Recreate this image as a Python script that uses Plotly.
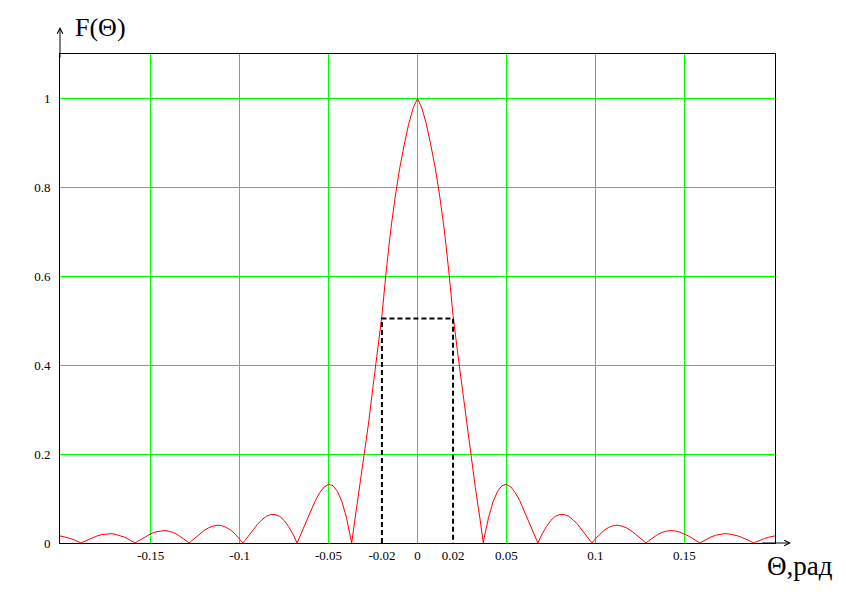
import plotly.graph_objects as go

# Angle theta (rad) and pattern F(theta)
theta = [
    -0.201, -0.2, -0.1975, -0.195, -0.1925, -0.19, -0.1892,
    -0.1875, -0.185, -0.1825, -0.18, -0.1775, -0.175, -0.1725, -0.17, -0.1675, -0.165, -0.1625, -0.16, -0.1588,
    -0.1575, -0.155, -0.1525, -0.15, -0.1475, -0.145, -0.1425, -0.14, -0.1375, -0.135, -0.1325, -0.13, -0.1285,
    -0.1275, -0.125, -0.1225, -0.12, -0.1175, -0.115, -0.1125, -0.11, -0.1075, -0.105, -0.1025, -0.1, -0.0981,
    -0.0975, -0.095, -0.0925, -0.09, -0.0875, -0.085, -0.0825, -0.08, -0.0775, -0.075, -0.0725, -0.07, -0.0677,
    -0.065, -0.0625, -0.06, -0.0575, -0.055, -0.0525, -0.05, -0.0475, -0.045, -0.0425, -0.04, -0.0375, -0.037,
    -0.035, -0.0325, -0.03, -0.0275, -0.025, -0.0225, -0.02, -0.0175, -0.015, -0.0125, -0.01, -0.0075, -0.005, -0.0025,
    0.0,
    0.0025, 0.005, 0.0075, 0.01, 0.0125, 0.015, 0.0175, 0.02, 0.0225, 0.025, 0.0275, 0.03, 0.0325, 0.035,
    0.037, 0.0375, 0.04, 0.0425, 0.045, 0.0475, 0.05, 0.0525, 0.055, 0.0575, 0.06, 0.0625, 0.065,
    0.0677, 0.07, 0.0725, 0.075, 0.0775, 0.08, 0.0825, 0.085, 0.0875, 0.09, 0.0925, 0.095, 0.0975,
    0.0981, 0.1, 0.1025, 0.105, 0.1075, 0.11, 0.1125, 0.115, 0.1175, 0.12, 0.1225, 0.125, 0.1275,
    0.1285, 0.13, 0.1325, 0.135, 0.1375, 0.14, 0.1425, 0.145, 0.1475, 0.15, 0.1525, 0.155, 0.1575,
    0.1588, 0.16, 0.1625, 0.165, 0.1675, 0.17, 0.1725, 0.175, 0.1775, 0.18, 0.1825, 0.185, 0.1875,
    0.1892, 0.19, 0.1925, 0.195, 0.1975, 0.2, 0.201,
]
f_theta = [
    0.016, 0.0152, 0.0131, 0.0100, 0.0061, 0.0016, 0.0,
    0.0032, 0.0079, 0.0123, 0.0161, 0.0189, 0.0205, 0.0209, 0.0197, 0.0173, 0.0135, 0.0086, 0.0029, 0.0,
    0.0033, 0.0096, 0.0155, 0.0206, 0.0246, 0.0271, 0.0279, 0.0268, 0.0238, 0.019, 0.0127, 0.005, 0.0,
    0.0034, 0.012, 0.020, 0.028, 0.034, 0.038, 0.040, 0.039, 0.035, 0.029, 0.020, 0.0093, 0.0,
    0.003, 0.016, 0.029, 0.042, 0.052, 0.060, 0.064, 0.064, 0.060, 0.051, 0.037, 0.020, 0.0,
    0.025, 0.049, 0.073, 0.095, 0.113, 0.126, 0.132, 0.129, 0.116, 0.093, 0.058, 0.012, 0.0,
    0.058, 0.125, 0.196, 0.270, 0.352, 0.430, 0.512, 0.615, 0.706, 0.780, 0.843, 0.895, 0.942, 0.978,
    1.0,
    0.978, 0.942, 0.895, 0.843, 0.780, 0.706, 0.615, 0.512, 0.430, 0.352, 0.270, 0.196, 0.125, 0.058,
    0.0, 0.012, 0.058, 0.093, 0.116, 0.129, 0.132, 0.126, 0.113, 0.095, 0.073, 0.049, 0.025,
    0.0, 0.020, 0.037, 0.051, 0.060, 0.064, 0.064, 0.060, 0.052, 0.042, 0.029, 0.016, 0.003,
    0.0, 0.0093, 0.020, 0.029, 0.035, 0.039, 0.040, 0.038, 0.034, 0.028, 0.020, 0.012, 0.0034,
    0.0, 0.005, 0.0127, 0.019, 0.0238, 0.0268, 0.0279, 0.0271, 0.0246, 0.0206, 0.0155, 0.0096, 0.0033,
    0.0, 0.0029, 0.0086, 0.0135, 0.0173, 0.0197, 0.0209, 0.0205, 0.0189, 0.0161, 0.0123, 0.0079, 0.0032,
    0.0, 0.0016, 0.0061, 0.0100, 0.0131, 0.0152, 0.016,
]
assert len(theta) == len(f_theta)

# dashed half-power box
box_theta = [-0.02, -0.02, 0.02, 0.02]
box_f = [0.0, 0.505, 0.505, 0.0]

x_ticks = [-0.15, -0.1, -0.05, -0.02, 0, 0.02, 0.05, 0.1, 0.15]
x_tick_labels = ["-0.15", "-0.1", "-0.05", "-0.02", "0", "0.02", "0.05", "0.1", "0.15"]
x_grid = [-0.15, -0.1, -0.05, 0, 0.05, 0.1, 0.15]
y_ticks = [0, 0.2, 0.4, 0.6, 0.8, 1.0]
y_tick_labels = ["0", "0.2", "0.4", "0.6", "0.8", "1"]

GRID = "#00ff00"
FONT = "Liberation Serif"

fig = go.Figure()

fig.add_trace(go.Scatter(
    x=theta, y=f_theta,
    mode="lines",
    line=dict(color="#ff0000", width=1),
    hoverinfo="skip",
))

fig.add_trace(go.Scatter(
    x=box_theta, y=box_f,
    mode="lines",
    line=dict(color="black", width=2, dash="5px,3px"),
    hoverinfo="skip",
))

# the page body adds an 8px offset, so margins are shifted to compensate
fig.update_layout(
    width=846,
    height=599,
    margin=dict(l=52, r=79, t=46, b=64),
    paper_bgcolor="white",
    plot_bgcolor="white",
    showlegend=False,
    font=dict(family=FONT, color="black", size=13),
    xaxis=dict(
        range=[-0.201, 0.201],
        tickvals=x_ticks,
        ticktext=x_tick_labels,
        showgrid=False,
        zeroline=False,
        showline=True,
        linecolor="black",
        linewidth=1,
        mirror=True,
        ticks="",
        ticklabelstandoff=0,
        minor=dict(tickvals=x_grid, showgrid=True, gridcolor=GRID, gridwidth=1, ticks=""),
    ),
    yaxis=dict(
        range=[0, 1.1],
        tickvals=y_ticks,
        ticktext=y_tick_labels,
        showgrid=True,
        gridcolor=GRID,
        gridwidth=1,
        zeroline=False,
        showline=True,
        linecolor="black",
        linewidth=1,
        mirror=True,
        ticks="",
        ticklabelstandoff=6,
    ),
)

# axis arrows and titles
fig.add_annotation(xref="paper", yref="paper", x=0, y=1 + 27 / 489, ax=0, ay=32,
                   text="", showarrow=True, arrowhead=5, arrowsize=1.1,
                   arrowwidth=1, arrowcolor="black", standoff=0)
fig.add_annotation(xref="paper", yref="paper", x=(791 - 60) / 715, y=0, ax=-30, ay=0,
                   text="", showarrow=True, arrowhead=5, arrowsize=1.1,
                   arrowwidth=1, arrowcolor="black", standoff=0)
fig.add_annotation(xref="paper", yref="paper", x=0.018, y=1 + 27 / 489,
                   xanchor="left", yanchor="middle", showarrow=False,
                   text="F(Θ)", font=dict(family=FONT, size=26, color="black"))
fig.add_annotation(xref="paper", yref="paper", x=0.986, y=-0.048,
                   xanchor="left", yanchor="middle", showarrow=False,
                   text="Θ,рад", font=dict(family=FONT, size=27, color="black"))

fig.write_html("out.html", config={"displayModeBar": False})
